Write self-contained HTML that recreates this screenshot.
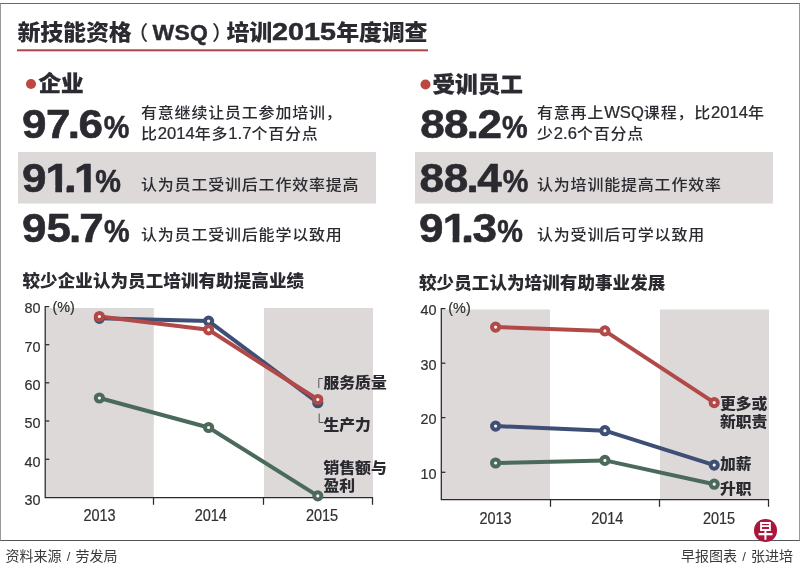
<!DOCTYPE html>
<html lang="zh-Hans">
<head>
<meta charset="utf-8">
<title>新技能资格（WSQ）培训2015年度调查</title>
<style>
html,body{margin:0;padding:0;background:#fff;}
body{width:800px;height:565px;position:relative;overflow:hidden;
 font-family:"Liberation Sans","Noto Sans CJK SC",sans-serif;color:#2a2a30;}
#frame{position:absolute;left:0;top:3px;width:800px;height:538px;border:1px solid #999;border-top-color:#6a6a6a;border-bottom-color:#555;box-sizing:border-box;}
svg{position:absolute;left:0;top:0;}
.t{position:absolute;white-space:nowrap;margin:0;padding:0;font-weight:normal;display:block;}
.t span{display:inline-block;}
.title{font-weight:900;font-size:23px;line-height:30px;letter-spacing:-0.2px;transform:scaleY(0.95);transform-origin:0 50%;}
.title .p1{width:20px;margin-left:1px;text-align:right;font-weight:500;font-size:21px;position:relative;left:-5.3px;}
.title .p2{width:20px;text-align:left;font-weight:500;font-size:21px;position:relative;left:5.5px;}
.title .w{font-size:23px;width:54px;text-align:center;letter-spacing:0.2px;-webkit-text-stroke:0.4px #2a2a30;}
.title .n{font-size:26px;width:64px;line-height:30px;letter-spacing:0;transform:scaleX(1.105);transform-origin:0 50%;-webkit-text-stroke:0.5px #2a2a30;}
.hd{font-weight:900;font-size:22.6px;line-height:30px;-webkit-text-stroke:0.3px #2a2a30;transform:scaleY(0.94);transform-origin:0 50%;}
svg text{font-family:"Liberation Sans",sans-serif;font-weight:bold;fill:#2a2a30;stroke:#2a2a30;stroke-linejoin:round;}
.bn{font-size:40px;stroke-width:0.6px;}
.bp{font-size:31.4px;stroke-width:0.5px;}
.desc{font-weight:500;font-size:16px;line-height:21.8px;letter-spacing:0.8px;transform:scaleY(0.94);transform-origin:0 50%;}
.desc .n{font-size:16.6px;letter-spacing:0;-webkit-text-stroke:0.25px #2a2a30;}
.sub{font-weight:900;font-size:17.5px;line-height:22px;letter-spacing:0.1px;}
.ax{font-size:14.4px;line-height:18px;color:#303030;transform:scaleY(1.05);transform-origin:50% 60%;-webkit-text-stroke:0.2px #303030;}
.yr{font-size:14.5px;line-height:18px;letter-spacing:-0.1px;color:#303030;transform:scaleY(1.08);transform-origin:50% 22%;-webkit-text-stroke:0.2px #303030;}
.lab{font-weight:900;font-size:15.8px;line-height:19px;transform:scaleY(0.93);transform-origin:0 50%;}
.ft{font-size:14px;line-height:20px;color:#3a3a3a;}
.ft .sl{width:14px;text-align:center;font-size:13px;}
.logo{position:absolute;left:754.2px;top:519.2px;width:22.6px;height:22.6px;border-radius:50%;background:#ab163d;color:#fff;
 font-family:"Liberation Sans","Noto Sans CJK SC",sans-serif;font-weight:bold;font-size:15px;line-height:22.6px;text-align:center;}
.logo span{display:block;transform:translateY(1.6px) scale(1,1.3);}
</style>
</head>
<body>
<div id="frame"></div>
<svg width="800" height="565" viewBox="0 0 800 565">
<rect x="18" y="152" width="358" height="51.5" fill="#ddd9d8"/>
<rect x="415" y="152" width="358" height="51.5" fill="#ddd9d8"/>
<rect x="17" y="49.3" width="411" height="2" fill="#ad4646"/>
<circle cx="31" cy="84" r="5" fill="#bd4840"/>
<circle cx="425.5" cy="84.5" r="5" fill="#bd4840"/>
<rect x="45" y="308" width="108.8" height="189.5" fill="#ddd9d8"/>
<rect x="264" y="308" width="109" height="189.5" fill="#ddd9d8"/>
<path d="M49.3 306.5 H45.2 V497.5 H372.5 " fill="none" stroke="#2a2a30" stroke-width="1.25"/>
<path d="M45.2 344.7 h4.1" stroke="#2a2a30" stroke-width="1.25"/>
<path d="M45.2 382.8 h4.1" stroke="#2a2a30" stroke-width="1.25"/>
<path d="M45.2 421 h4.1" stroke="#2a2a30" stroke-width="1.25"/>
<path d="M45.2 459.3 h4.1" stroke="#2a2a30" stroke-width="1.25"/>
<path d="M153.5 497.0 v7.8" stroke="#2a2a30" stroke-width="1.25"/>
<path d="M263.5 497.0 v7.8" stroke="#2a2a30" stroke-width="1.25"/>
<path d="M372.5 497.0 v7.8" stroke="#2a2a30" stroke-width="1.25"/>
<path d="M99.4 398.0 L208.6 427.5 L317.8 495.9" fill="none" stroke="#4b6a5c" stroke-width="4" stroke-linejoin="round" stroke-linecap="round"/>
<path d="M99.4 318.3 L208.6 321.1 L317.8 402.7" fill="none" stroke="#3e4e75" stroke-width="4" stroke-linejoin="round" stroke-linecap="round"/>
<path d="M99.4 316.5 L208.6 329.8 L317.8 399.5" fill="none" stroke="#b04947" stroke-width="4" stroke-linejoin="round" stroke-linecap="round"/>
<circle cx="99.4" cy="398.0" r="3.6" fill="#fbf6ee" stroke="#4b6a5c" stroke-width="4"/>
<circle cx="208.6" cy="427.5" r="3.6" fill="#fbf6ee" stroke="#4b6a5c" stroke-width="4"/>
<circle cx="317.8" cy="495.9" r="3.6" fill="#fbf6ee" stroke="#4b6a5c" stroke-width="4"/>
<circle cx="99.4" cy="318.3" r="3.6" fill="#fbf6ee" stroke="#3e4e75" stroke-width="4"/>
<circle cx="208.6" cy="321.1" r="3.6" fill="#fbf6ee" stroke="#3e4e75" stroke-width="4"/>
<circle cx="317.8" cy="402.7" r="3.6" fill="#fbf6ee" stroke="#3e4e75" stroke-width="4"/>
<circle cx="99.4" cy="316.5" r="3.6" fill="#fbf6ee" stroke="#b04947" stroke-width="4"/>
<circle cx="208.6" cy="329.8" r="3.6" fill="#fbf6ee" stroke="#b04947" stroke-width="4"/>
<circle cx="317.8" cy="399.5" r="3.6" fill="#fbf6ee" stroke="#b04947" stroke-width="4"/>
<path d="M318.8 388 v-9.5 h4" fill="none" stroke="#555" stroke-width="1"/>
<path d="M319.2 413.5 v9 h4.3" fill="none" stroke="#555" stroke-width="1"/>
<rect x="441" y="309.5" width="109" height="190.0" fill="#ddd9d8"/>
<rect x="660" y="309.5" width="109" height="190.0" fill="#ddd9d8"/>
<path d="M445.4 308.7 H441.3 V499.5 H768.5 " fill="none" stroke="#2a2a30" stroke-width="1.25"/>
<path d="M441.3 363.2 h4.1" stroke="#2a2a30" stroke-width="1.25"/>
<path d="M441.3 417.6 h4.1" stroke="#2a2a30" stroke-width="1.25"/>
<path d="M441.3 472.3 h4.1" stroke="#2a2a30" stroke-width="1.25"/>
<path d="M550.5 499.0 v7.8" stroke="#2a2a30" stroke-width="1.25"/>
<path d="M659.5 499.0 v7.8" stroke="#2a2a30" stroke-width="1.25"/>
<path d="M768.5 499.0 v7.8" stroke="#2a2a30" stroke-width="1.25"/>
<path d="M495.6 463.0 L604.9 460.4 L714.2 484.2" fill="none" stroke="#4b6a5c" stroke-width="4" stroke-linejoin="round" stroke-linecap="round"/>
<path d="M495.6 426.1 L604.9 430.7 L714.2 465.1" fill="none" stroke="#3e4e75" stroke-width="4" stroke-linejoin="round" stroke-linecap="round"/>
<path d="M495.6 327.1 L604.9 330.9 L714.2 402.6" fill="none" stroke="#b04947" stroke-width="4" stroke-linejoin="round" stroke-linecap="round"/>
<circle cx="495.6" cy="463.0" r="3.6" fill="#fbf6ee" stroke="#4b6a5c" stroke-width="4"/>
<circle cx="604.9" cy="460.4" r="3.6" fill="#fbf6ee" stroke="#4b6a5c" stroke-width="4"/>
<circle cx="714.2" cy="484.2" r="3.6" fill="#fbf6ee" stroke="#4b6a5c" stroke-width="4"/>
<circle cx="495.6" cy="426.1" r="3.6" fill="#fbf6ee" stroke="#3e4e75" stroke-width="4"/>
<circle cx="604.9" cy="430.7" r="3.6" fill="#fbf6ee" stroke="#3e4e75" stroke-width="4"/>
<circle cx="714.2" cy="465.1" r="3.6" fill="#fbf6ee" stroke="#3e4e75" stroke-width="4"/>
<circle cx="495.6" cy="327.1" r="3.6" fill="#fbf6ee" stroke="#b04947" stroke-width="4"/>
<circle cx="604.9" cy="330.9" r="3.6" fill="#fbf6ee" stroke="#b04947" stroke-width="4"/>
<circle cx="714.2" cy="402.6" r="3.6" fill="#fbf6ee" stroke="#b04947" stroke-width="4"/>
<defs><clipPath id="cb2" clipPathUnits="userSpaceOnUse"><path clip-rule="evenodd" d="M18.6 152 H125.6 V202 H18.6 Z M47.16 186.00 H55.34 V195.00 H47.16 Z M62.02 186.00 H66.50 V195.00 H62.02 Z M75.89 186.00 H84.07 V195.00 H75.89 Z M90.74 186.00 H98.35 V195.00 H90.74 Z"/></clipPath>
<clipPath id="cb6" clipPathUnits="userSpaceOnUse"><path clip-rule="evenodd" d="M415.4 202 H527.6 V252 H415.4 Z M444.46 236.00 H452.64 V245.00 H444.46 Z M459.32 236.00 H463.75 V245.00 H459.32 Z"/></clipPath></defs>
<text id="b1" class="bn" transform="scale(1.1,1)" x="19.99 41.74 61.64 71.28" y="138">97.6</text><text class="bp" transform="scale(0.92,1)" x="112.69" y="138.3">%</text>
<g clip-path="url(#cb2)"><text id="b2" class="bn" transform="scale(1.1,1)" x="19.97 41.27 58.69 67.38" y="192">91.1</text></g><text class="bp" transform="scale(0.92,1)" x="103.64" y="192.3">%</text>
<text id="b3" class="bn" transform="scale(1.1,1)" x="19.97 42.2 62.83 71.96" y="242">95.7</text><text class="bp" transform="scale(0.92,1)" x="112.97" y="242.3">%</text>
<text id="b4" class="bn" transform="scale(1.1,1)" x="382.04 403.63 424.37 434.17" y="138">88.2</text><text class="bp" transform="scale(0.92,1)" x="545.63" y="138.3">%</text>
<text id="b5" class="bn" transform="scale(1.1,1)" x="381.38 403.4 424.14 433.86" y="192">88.4</text><text class="bp" transform="scale(0.92,1)" x="546.58" y="192.3">%</text>
<g clip-path="url(#cb6)"><text id="b6" class="bn" transform="scale(1.1,1)" x="380.81 402.45 419.76 429.64" y="242">91.3</text></g><text class="bp" transform="scale(0.92,1)" x="540.6" y="242.3">%</text>
</svg>
<h1 id="title" class="t title" style="left:17.5px;top:16px;">新技能资格<span class="p1">（</span><span class="w">WSQ</span><span class="p2">）</span>培训<span class="n">2015</span>年度调查</h1>
<h2 id="hd1" class="t hd" style="left:38.5px;top:69px;">企业</h2>
<h2 id="hd2" class="t hd" style="left:432.5px;top:69.5px;">受训员工</h2>
<p id="d1" class="t desc" style="left:141px;top:101.6px;">有意继续让员工参加培训，<br>比<span class="n">2014</span>年多<span class="n">1.7</span>个百分点</p>
<p id="d2" class="t desc" style="left:141px;top:174.3px;">认为员工受训后工作效率提高</p>
<p id="d3" class="t desc" style="left:141px;top:223.8px;">认为员工受训后能学以致用</p>
<p id="d4" class="t desc" style="left:537px;top:101.6px;">有意再上<span class="n">WSQ</span>课程，比<span class="n">2014</span>年<br>少<span class="n">2.6</span>个百分点</p>
<p id="d5" class="t desc" style="left:537px;top:174.3px;">认为培训能提高工作效率</p>
<p id="d6" class="t desc" style="left:537px;top:223.8px;">认为受训后可学以致用</p>
<h3 id="s1" class="t sub" style="left:22.5px;top:269.5px;">较少企业认为员工培训有助提高业绩</h3>
<h3 id="s2" class="t sub" style="left:419px;top:271.5px;">较少员工认为培训有助事业发展</h3>
<div id="la80" class="t ax" style="right:759.5px;top:299.2px;text-align:right;">80</div>
<div id="la70" class="t ax" style="right:759.5px;top:338.2px;text-align:right;">70</div>
<div id="la60" class="t ax" style="right:759.5px;top:376.2px;text-align:right;">60</div>
<div id="la50" class="t ax" style="right:759.5px;top:414.2px;text-align:right;">50</div>
<div id="la40" class="t ax" style="right:759.5px;top:452.7px;text-align:right;">40</div>
<div id="la30" class="t ax" style="right:759.5px;top:491.2px;text-align:right;">30</div>
<div id="lp" class="t ax" style="left:52.5px;top:297.8px;">(%)</div>
<div id="ra40" class="t ax" style="right:363.5px;top:300.7px;text-align:right;">40</div>
<div id="ra30" class="t ax" style="right:363.5px;top:355.7px;text-align:right;">30</div>
<div id="ra20" class="t ax" style="right:363.5px;top:410.2px;text-align:right;">20</div>
<div id="ra10" class="t ax" style="right:363.5px;top:464.7px;text-align:right;">10</div>
<div id="rp" class="t ax" style="left:448.3px;top:299.3px;">(%)</div>
<div id="ly2013" class="t yr" style="left:69.5px;top:506.2px;width:60px;text-align:center;">2013</div>
<div id="ly2014" class="t yr" style="left:180.7px;top:506.2px;width:60px;text-align:center;">2014</div>
<div id="ly2015" class="t yr" style="left:292px;top:506.2px;width:60px;text-align:center;">2015</div>
<div id="ry2013" class="t yr" style="left:465.5px;top:508.6px;width:60px;text-align:center;">2013</div>
<div id="ry2014" class="t yr" style="left:577.3px;top:508.6px;width:60px;text-align:center;">2014</div>
<div id="ry2015" class="t yr" style="left:689px;top:508.6px;width:60px;text-align:center;">2015</div>
<div id="k1" class="t lab" style="left:323.5px;top:373px;">服务质量</div>
<div id="k2" class="t lab" style="left:323.5px;top:415px;">生产力</div>
<div id="k3" class="t lab" style="left:323.5px;top:457.9px;line-height:19px;">销售额与<br>盈利</div>
<div id="k4" class="t lab" style="left:720px;top:394px;line-height:19px;">更多或<br>新职责</div>
<div id="k5" class="t lab" style="left:720px;top:454px;">加薪</div>
<div id="k6" class="t lab" style="left:720px;top:479px;">升职</div>
<footer id="f1" class="t ft" style="left:5.5px;top:546px;">资料来源<span class="sl">/</span>劳发局</footer>
<footer id="f2" class="t ft" style="right:7px;top:546px;text-align:right;">早报图表<span class="sl">/</span>张进培</footer>
<div class="logo"><span>早</span></div>
</body>
</html>
